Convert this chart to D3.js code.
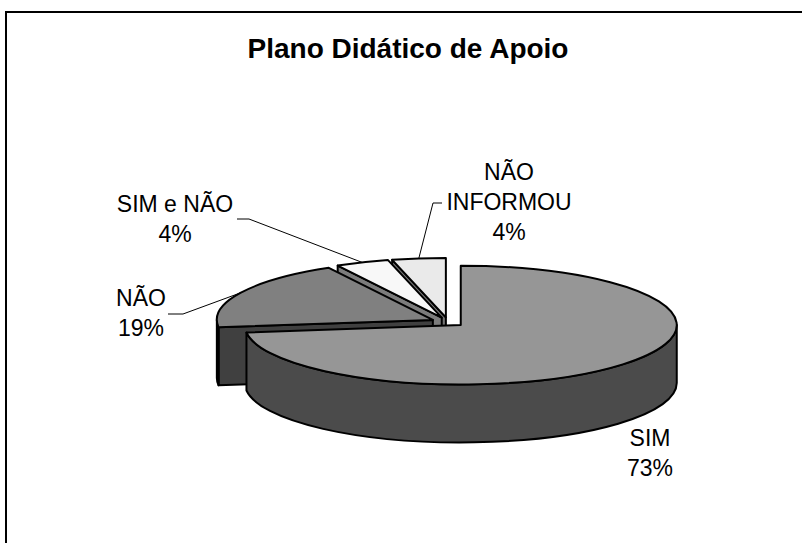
<!DOCTYPE html>
<html>
<head>
<meta charset="utf-8">
<script src="https://cdn.jsdelivr.net/npm/d3@7"></script>
<style>
  html, body { margin: 0; padding: 0; background: #fff; }
  svg { display: block; }
  text { font-family: "Liberation Sans", Arial, Helvetica, sans-serif; fill: #000; }
</style>
</head>
<body>
<svg id="chart" width="802" height="543"></svg>
<script>
// ---- data ----
const title = "Plano Didático de Apoio";
const categories = ["SIM", "NÃO", "SIM e NÃO", "NÃO INFORMOU"];
const values = [73, 19, 4, 4];
const labelLines = [["SIM"], ["NÃO"], ["SIM e NÃO"], ["NÃO", "INFORMOU"]];

// ---- styles / layout ----
const topColors  = ["#969696", "#808080", "#f8f8f8", "#eaeaea"];
const sideColors = ["#4b4b4b", "#404040", "#7c7c7c", "#757575"];
const labelLayout = [
  { x: 650, y: 446, leader: null },
  { x: 141, y: 306, leader: [[168, 314], [183, 314]] },
  { x: 175, y: 212, leader: [[237, 219], [249, 219]] },
  { x: 509, y: 180, leader: [[442, 203], [433, 203]] }
];

const W = 802, H = 543;
const svg = d3.select("#chart");

// frame
svg.append("rect")
  .attr("x", 6).attr("y", 12).attr("width", 1000).attr("height", 800)
  .attr("fill", "none").attr("stroke", "#000").attr("stroke-width", 2);

// title
svg.append("text")
  .attr("x", 408).attr("y", 58)
  .attr("text-anchor", "middle")
  .attr("font-size", 28).attr("font-weight", "bold")
  .text(title);

// ---- 3D pie geometry ----
const cx = 448, cy = 322, rx = 216, ry = 59.4, depth = 58, explode = 17;
const k = ry / rx;

const pie = d3.pie().sort(null).value(d => d.v).startAngle(0).endAngle(2 * Math.PI);
const data = categories.map((c, i) => ({ c, v: values[i], i }));
const arcs = pie(data);
const total = d3.sum(values);

const color = d3.scaleOrdinal().domain(categories).range(topColors);
const sideColor = d3.scaleOrdinal().domain(categories).range(sideColors);

arcs.forEach(a => {
  a.mid = (a.startAngle + a.endAngle) / 2;
  a.vx = cx + explode * Math.sin(a.mid);
  a.vy = cy - explode * Math.cos(a.mid) * k;
});

function P(a, t, dz = 0) {
  return [a.vx + rx * Math.sin(t), a.vy - ry * Math.cos(t) + dz];
}
const f = p => p[0].toFixed(2) + "," + p[1].toFixed(2);

function topPath(a) {
  const p0 = P(a, a.startAngle), p1 = P(a, a.endAngle);
  const large = (a.endAngle - a.startAngle) > Math.PI ? 1 : 0;
  return `M${f([a.vx, a.vy])}L${f(p0)}A${rx},${ry} 0 ${large} 1 ${f(p1)}Z`;
}
function wallPath(a) {
  const s = Math.max(a.startAngle, Math.PI / 2), e = Math.min(a.endAngle, 3 * Math.PI / 2);
  if (e <= s) return null;
  const t0 = P(a, s), t1 = P(a, e), b1 = P(a, e, depth), b0 = P(a, s, depth);
  return `M${f(t0)}A${rx},${ry} 0 0 1 ${f(t1)}L${f(b1)}A${rx},${ry} 0 0 0 ${f(b0)}Z`;
}
function facePath(a, t) {
  const p = P(a, t), pb = P(a, t, depth);
  return `M${f([a.vx, a.vy])}L${f(p)}L${f(pb)}L${f([a.vx, a.vy + depth])}Z`;
}

// painter's order: back slices first
const order = arcs.slice().sort((a, b) => Math.cos(b.mid) - Math.cos(a.mid));
const g = svg.append("g")
  .attr("stroke", "#000").attr("stroke-width", 2).attr("stroke-linejoin", "round");

order.forEach(a => {
  const sg = g.append("g");
  // radial faces
  if (Math.sin(a.startAngle) < -1e-6)
    sg.append("path").attr("d", facePath(a, a.startAngle)).attr("fill", sideColor(a.data.c));
  if (Math.sin(a.endAngle) > 1e-6)
    sg.append("path").attr("d", facePath(a, a.endAngle)).attr("fill", sideColor(a.data.c));
  const w = wallPath(a);
  if (w) sg.append("path").attr("d", w).attr("fill", sideColor(a.data.c));
  sg.append("path").attr("d", topPath(a)).attr("fill", color(a.data.c));
});

// ---- labels ----
const lineH = 30;
arcs.forEach((a, i) => {
  const L = labelLayout[i];
  const lines = labelLines[i].concat([Math.round(a.data.v / total * 100) + "%"]);
  const t = svg.append("text")
    .attr("text-anchor", "middle").attr("font-size", 23);
  lines.forEach((s, j) => {
    t.append("tspan").attr("x", L.x).attr("y", L.y + j * lineH).text(s);
  });
  if (L.leader) {
    const end = P(a, a.mid);
    const pts = L.leader.concat([end]);
    svg.append("path")
      .attr("d", d3.line()(pts))
      .attr("fill", "none").attr("stroke", "#000").attr("stroke-width", 1);
  }
});
</script>
</body>
</html>
